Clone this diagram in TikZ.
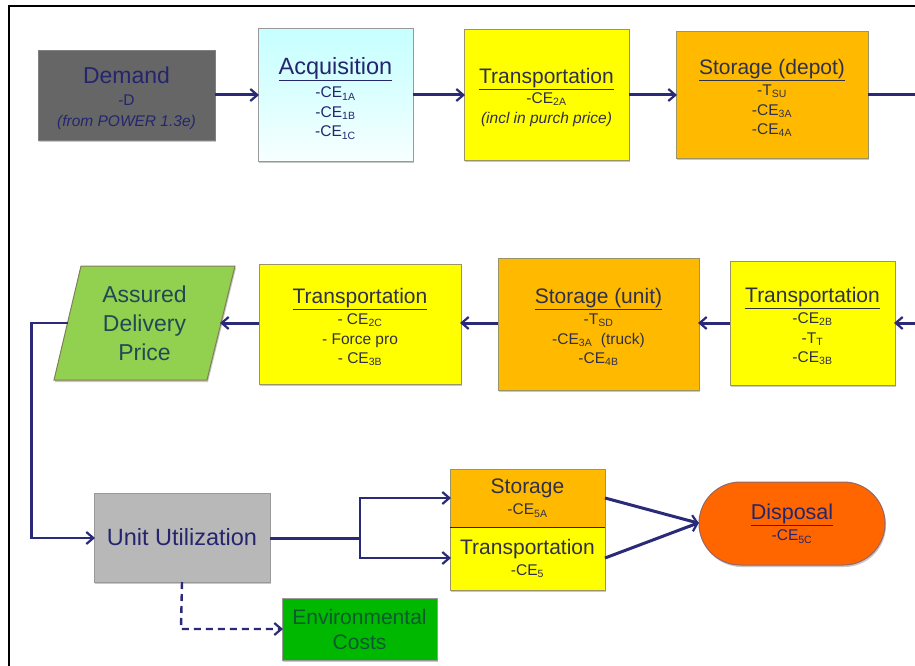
\documentclass[tikz,border=0pt]{standalone}
\usepackage{fontspec}
\setmainfont{Liberation Sans}
\usetikzlibrary{arrows.meta,shadows,shapes.misc}
\definecolor{navyink}{HTML}{2A2A78}
\definecolor{boxedge}{HTML}{9A9468}
\definecolor{yel}{HTML}{FFFF00}
\definecolor{amb}{HTML}{FFBA00}
\definecolor{txt}{HTML}{30304A}
\definecolor{grayfill}{HTML}{666666}
\definecolor{uufill}{HTML}{B8B8B8}
\definecolor{adpfill}{HTML}{92D050}
\definecolor{adptext}{HTML}{1F4A55}
\definecolor{envfill}{HTML}{00B800}
\definecolor{envtext}{HTML}{0B5A30}
\definecolor{dispfill}{HTML}{FF6600}
\definecolor{bluetext}{HTML}{25256E}
\tikzset{
  x=1pt,y=-1pt,
  softshadow/.style={drop shadow={shadow xshift=1pt,shadow yshift=-2pt,opacity=.3,fill=black!70}},
  boxbase/.style={draw=boxedge,line width=1pt,inner sep=0pt,outer sep=0pt,align=center,
     softshadow,text=txt,font=\fontsize{15.5}{19.5}\selectfont},
  link/.style={draw=navyink,line width=3pt,-{Straight Barb[length=7pt,width=12pt,line width=2.2pt]},shorten >=-1pt},
  thinlink/.style={link,line width=2.4pt},
  plainlink/.style={draw=navyink,line width=3pt},
}
\newcommand{\head}[2][21]{\fontsize{#1}{24}\selectfont\rule{0pt}{21pt}\underline{#2}}
\newcommand{\lab}[1]{\textsubscript{\fontsize{10.5}{10}\selectfont #1}}
\newcommand{\boxat}[6]{% name, style, x0, y0, x1, y1; node text follows
  \node[boxbase,#2,minimum width=#5-#3,minimum height=#6-#4] (#1) at ({(#3+#5)/2},{(#4+#6)/2})}
\begin{document}
\begin{tikzpicture}
\useasboundingbox (0,0) rectangle (915,666);
\fill[white] (0,0) rectangle (915,666);
% frame
\draw[black,line width=2.5pt] (915,6) -- (9,6) -- (9,666);

\boxat{demand}{fill=grayfill,text=bluetext,draw=black!50}{38}{51}{215}{140}
  {{\fontsize{23}{27}\selectfont\rule{0pt}{23pt}Demand}\\[2pt]-D\\[2pt]\textit{(from POWER 1.3e)}};
\boxat{acq}{top color=cyan!22,bottom color=cyan!3,middle color=cyan!14,draw=black!40,text=bluetext}{258}{29}{413}{161}
  {{\fontsize{23.5}{24}\selectfont\rule{0pt}{23.5pt}\underline{Acquisition}}\\[4pt]-CE\lab{1A}\\-CE\lab{1B}\\-CE\lab{1C}};
\boxat{trA}{fill=yel}{464}{30}{629}{160}
  {{\head{Transportation}}\\[0pt]-CE\lab{2A}\\[1pt]\textit{(incl in purch price)}};
\boxat{stD}{fill=amb}{676}{32}{868}{158}
  {{\head{Storage (depot)}}\\[2pt]-T\lab{SU}\\-CE\lab{3A}\\-CE\lab{4A}};
\boxat{trB}{fill=yel}{730}{261}{895}{385}
  {{\head{Transportation}}\\[2pt]-CE\lab{2B}\\-T\lab{T}\\-CE\lab{3B}};
\boxat{stU}{fill=amb}{498}{258}{699}{390}
  {{\head{Storage (unit)}}\\[2pt]-T\lab{SD}\\-CE\lab{3A}\ \ (truck)\\-CE\lab{4B}};
\boxat{trC}{fill=yel}{259}{264}{461}{384}
  {{\head{Transportation}}\\[2pt]- CE\lab{2C}\\- Force pro\\- CE\lab{3B}};

% assured delivery price
\coordinate (adR) at (221,323);
\coordinate (adL) at (68,323);
\draw[draw=boxedge!85!black,line width=1pt,fill=adpfill,softshadow]
  (81,266) -- (235,266) -- (207,380) -- (54,380) -- cycle;
\node[align=center,text=adptext,font=\fontsize{23}{29}\selectfont] (adp) at (144.5,323) {Assured\\Delivery\\Price};

\boxat{uu}{fill=uufill,draw=black!40,text=bluetext}{94}{493}{270}{582}
  {\fontsize{23.5}{27}\selectfont Unit Utilization};
\boxat{env}{fill=envfill,draw=black!40,text=envtext,font=\fontsize{21}{25}\selectfont}{282}{598}{437}{660}
  {Environmental\\Costs};
\boxat{sto}{fill=amb}{450}{469}{605}{527}
  {{\fontsize{21}{24}\selectfont Storage}\\[2pt]-CE\lab{5A}};
\boxat{tra}{fill=yel}{450}{527}{605}{590}
  {{\fontsize{21}{24}\selectfont Transportation}\\[1pt]-CE\lab{5}};
\draw[black!75!boxedge,line width=1pt] (sto.south west) -- (sto.south east);
\node[boxbase,fill=dispfill,draw=red!30!black!60,rounded rectangle,rounded rectangle arc length=180,
   minimum width=186pt,minimum height=83pt,text=bluetext] (disp) at (792,523.5)
  {{\fontsize{21.5}{24}\selectfont\underline{Disposal}}\\[2pt]-CE\lab{5C}};

% connectors
\draw[link] (demand.east |- 0,95) -- (acq.west |- 0,95);
\draw[link] (acq.east |- 0,95) -- (trA.west |- 0,95);
\draw[link] (trA.east |- 0,95) -- (stD.west |- 0,95);
\coordinate (outR) at (915,95);
\coordinate (inR) at (915,323);
\draw[plainlink] (stD.east |- outR) -- (outR);
\draw[link] (inR) -- (trB.east |- inR);
\draw[link] (trB.west |- inR) -- (stU.east |- inR);
\draw[link] (stU.west |- inR) -- (trC.east |- inR);
\draw[link] (trC.west |- inR) -- (adR);
\coordinate (elbowA) at (31.5,323);
\coordinate (elbowB) at (31.5,538);
\draw[thinlink] (adL) -- (elbowA) -- (elbowB) -- (uu.west |- elbowB);
\coordinate (fork) at (360,538);
\draw[plainlink] (uu.east |- fork) -- (fork);
\draw[thinlink] (fork) -- (360,498) -- (sto.west |- 0,498);
\draw[thinlink] (fork) -- (360,558) -- (tra.west |- 0,558);
\coordinate (dispIn) at (698,523);
\draw[link] (sto.east |- 0,498) -- (dispIn);
\draw[link] (tra.east |- 0,558) -- (dispIn);
\coordinate (dashEl) at (181,629);
\draw[thinlink,dash pattern=on 7pt off 5pt] (uu.south) -- (dashEl) -- (env.west |- dashEl);
\end{tikzpicture}
\end{document}
